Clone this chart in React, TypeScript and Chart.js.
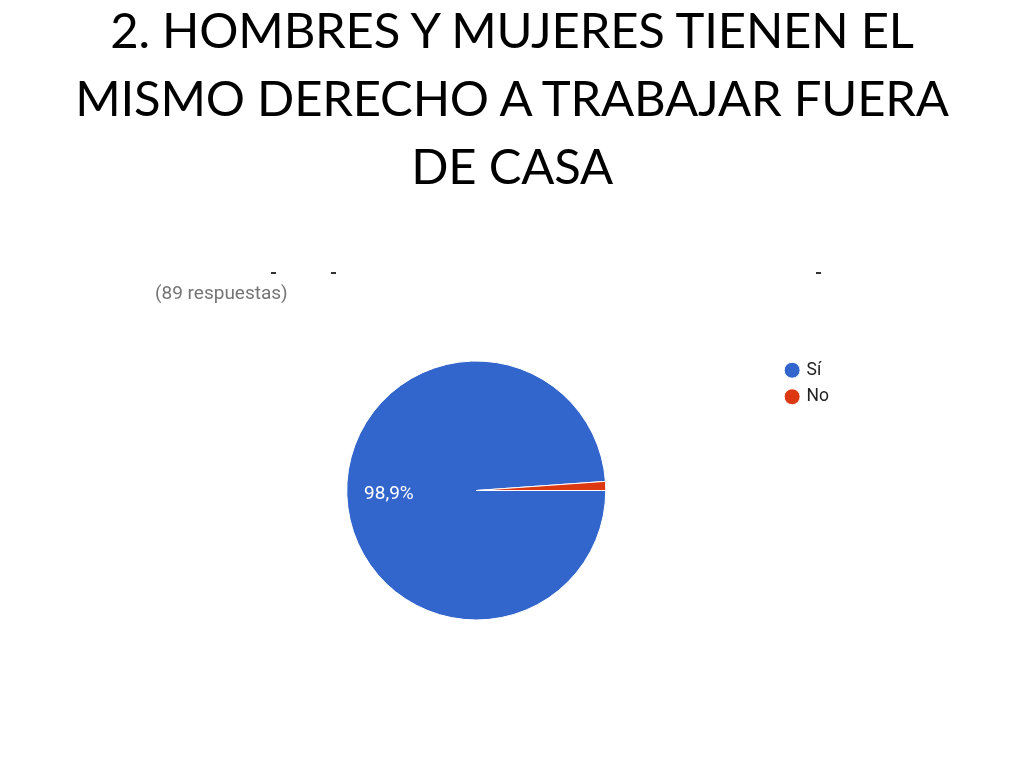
import React, { useEffect, useRef } from 'react';
import { Chart, registerables } from 'chart.js';

Chart.register(...registerables);

const categories = ['Sí', 'No'];
const responses = [88, 1];
const sliceColors = ['#3366cc', '#dc3912'];
const titleLines = ['2. HOMBRES Y MUJERES TIENEN EL', 'MISMO DERECHO A TRABAJAR FUERA', 'DE CASA'];
const subtitle = '(89 respuestas)';

const sliceLabels = {
  id: 'sliceLabels',
  afterDatasetsDraw(chart: any) {
    const meta = chart.getDatasetMeta(0);
    const data = chart.data.datasets[0].data as number[];
    const total = data.reduce((a, b) => a + b, 0);
    const ctx = chart.ctx;
    ctx.save();
    ctx.font = '19px Roboto';
    ctx.fillStyle = '#ffffff';
    ctx.textAlign = 'center';
    ctx.textBaseline = 'middle';
    meta.data.forEach((arc: any, i: number) => {
      const frac = data[i] / total;
      if (frac < 0.05) return;
      const p = arc.getProps(['x', 'y', 'startAngle', 'endAngle', 'outerRadius'], true);
      const mid = (p.startAngle + p.endAngle) / 2;
      const r = p.outerRadius * 0.675;
      const txt = (frac * 100).toFixed(1).replace('.', ',') + '%';
      ctx.fillText(txt, p.x + Math.cos(mid) * r, p.y + Math.sin(mid) * r + 1);
    });
    ctx.restore();
  },
};

export default function App() {
  const canvasRef = useRef<HTMLCanvasElement | null>(null);

  useEffect(() => {
    document.body.style.margin = '0';
    const chart = new Chart(canvasRef.current as HTMLCanvasElement, {
      type: 'pie',
      data: {
        labels: categories,
        datasets: [
          {
            data: responses,
            backgroundColor: sliceColors,
            borderColor: '#ffffff',
            borderWidth: 1,
          },
        ],
      },
      options: {
        animation: false,
        responsive: true,
        maintainAspectRatio: false,
        rotation: 90,
        radius: 129.5,
        layout: { padding: { left: 175, right: 185, top: 352.5, bottom: 139.5 } },
        plugins: {
          tooltip: { enabled: false },
          legend: {
            position: 'right',
            align: 'start',
            labels: {
              usePointStyle: true,
              pointStyle: 'circle',
              boxWidth: 11.3,
              boxHeight: 11.3,
              padding: 9,
              color: '#222222',
              font: { family: 'Roboto', size: 17.5 },
            },
          },
        },
      } as any,
      plugins: [sliceLabels],
    });
    return () => chart.destroy();
  }, []);

  const dash = (left: number): React.CSSProperties => ({
    position: 'absolute',
    left,
    top: 272,
    width: 5,
    height: 2,
    background: '#333',
  });

  return (
    <div style={{ position: 'relative', width: 1024, height: 768, background: '#fff', overflow: 'hidden' }}>
      <div style={{ position: 'absolute', inset: 0 }}>
        <canvas ref={canvasRef} />
      </div>
      <div
        style={{
          position: 'absolute',
          top: -5,
          left: 0,
          width: 1024,
          textAlign: 'center',
          fontFamily: 'Lato',
          fontSize: 49,
          letterSpacing: '-0.2px',
          lineHeight: '68px',
          color: '#000',
        }}
      >
        {titleLines.map((l, i) => (
          <div key={i}>{l}</div>
        ))}
      </div>
      <div style={{ position: 'absolute', left: 155, top: 281, fontFamily: 'Roboto', fontSize: 19, color: '#757575', lineHeight: '24px' }}>
        {subtitle}
      </div>
      <div style={dash(271)} />
      <div style={dash(331)} />
      <div style={dash(816)} />
    </div>
  );
}
